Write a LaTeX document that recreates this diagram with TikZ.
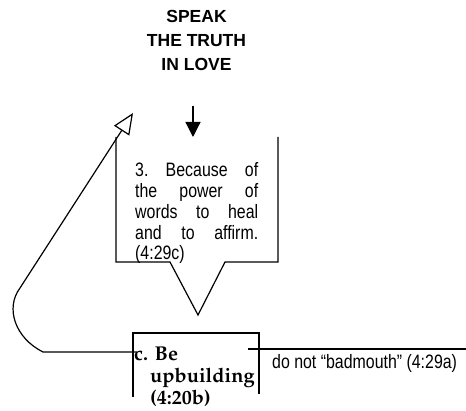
\documentclass[tikz,border=0pt]{standalone}
\usepackage[T1]{fontenc}
\usepackage{fontspec}
\setmainfont{Liberation Sans}
\newfontfamily\narrowsans[FakeStretch=0.82]{Liberation Sans}
\usetikzlibrary{arrows.meta}

\tikzset{
  headtext/.style={font=\bfseries\fontsize{17.5}{24}\selectfont, align=center, inner sep=0pt},
  bodytext/.style={font=\narrowsans\fontsize{19.4}{20.7}\selectfont\frenchspacing, inner sep=0pt},
  booktext/.style={font=\fontencoding{T1}\fontfamily{ppl}\fontseries{b}\fontsize{20}{22}\selectfont, align=left, text width=124pt, inner sep=0pt},
  rule/.style={line width=1.2pt},
}

\begin{document}
\begin{tikzpicture}[x=1pt, y=-1pt]
  \useasboundingbox (0,0) rectangle (466,411);

  % heading
  \node[headtext, anchor=north] (speak) at (196.5,10) {SPEAK\\THE TRUTH\\IN LOVE};

  % reason box with a pointer below
  \node[bodytext, align=justify, anchor=base west, text width=123pt] (reason) at (135,177)
    {3. Because of\linebreak the power of\linebreak words to heal\linebreak and to affirm.\linebreak (4:29c)};
  \coordinate (calltop) at (193,137);
  \coordinate (callleft) at (116,137);
  \coordinate (callright) at (278,137);
  \coordinate (calltip) at (198,315);
  \draw[rule] (callleft) -- (116,262) -- (170,262) -- (calltip) -- (225,262) -- (278,262) -- (callright);

  \coordinate (arrtop) at (193,106);
  \draw[rule, -{Triangle[length=15pt, width=15pt]}] (arrtop) -- (calltop);

  % the command itself
  \node[booktext, anchor=base west] (upbuild) at (134,361)
    {c.\ Be\\\hspace*{16pt}upbuilding\\\hspace*{16pt}(4:20b)};
  \draw[rule] (133,397) -- (133,333) -- (259,333) -- (259,394);

  % negative side
  \coordinate (mouthstart) at (248,349);
  \coordinate (mouthend) at (466,349);
  \draw[rule] (mouthstart) -- (mouthend);
  \node[bodytext, anchor=base west] (badmouth) at (272,369) {do not “badmouth” (4:29a)};

  % back to the reason
  \coordinate (loopstart) at (137,352);
  \coordinate (looptip) at (133,113);
  \draw[rule, -{Triangle[open, length=21pt, width=18pt]}] (loopstart) -- (43,352)
    .. controls (15,338) and (5,308) .. (20,288) -- (looptip);
\end{tikzpicture}
\end{document}
